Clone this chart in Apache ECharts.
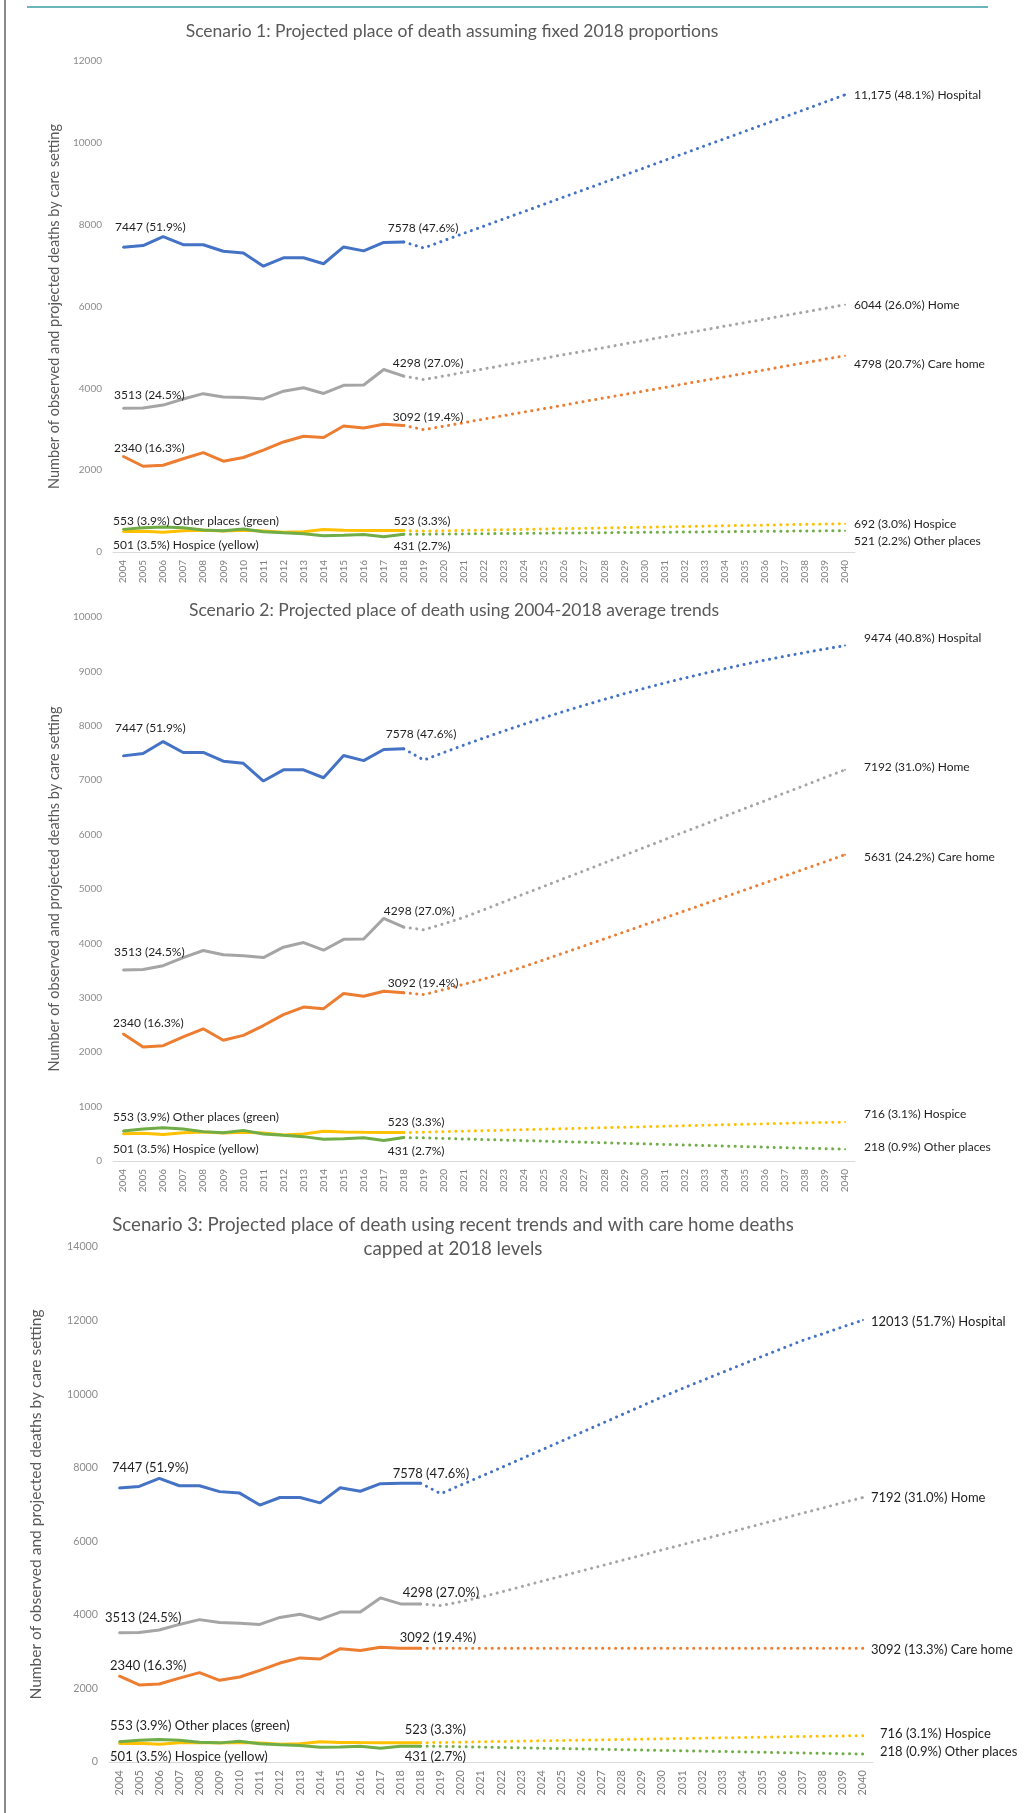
<!DOCTYPE html>
<html><head><meta charset="utf-8">
<script src="https://cdn.jsdelivr.net/npm/echarts@6/dist/echarts.min.js"></script>
<style>html,body{margin:0;padding:0;background:#fff}#c{width:1036px;height:1813px}</style>
</head><body><div id="c"></div>
<script>
// ---------------- DATA ----------------
const years = ['2004','2005','2006','2007','2008','2009','2010','2011','2012','2013','2014','2015','2016','2017','2018',
  '2019','2020','2021','2022','2023','2024','2025','2026','2027','2028','2029','2030','2031','2032','2033','2034','2035',
  '2036','2037','2038','2039','2040'];
const yearsS3 = ['2004','2005','2006','2007','2008','2009','2010','2011','2012','2013','2014','2015','2016','2017','2018','2018',
  '2019','2020','2021','2022','2023','2024','2025','2026','2027','2028','2029','2030','2031','2032','2033','2034','2035',
  '2036','2037','2038','2039','2040'];

// observed 2004-2018
const hospitalObs = [7447, 7490, 7710, 7510, 7510, 7350, 7310, 6985, 7190, 7190, 7045, 7455, 7360, 7565, 7578];
const homeObs     = [3513, 3520, 3590, 3740, 3870, 3790, 3775, 3740, 3930, 4015, 3875, 4075, 4080, 4460, 4298];
const careObs     = [2340, 2095, 2120, 2280, 2430, 2220, 2310, 2490, 2690, 2830, 2800, 3080, 3030, 3120, 3092];
const hospiceObs  = [501, 508, 485, 520, 533, 515, 530, 515, 480, 497, 548, 533, 527, 525, 523];
const otherObs    = [553, 590, 612, 590, 540, 520, 563, 497, 472, 448, 398, 410, 428, 375, 431];

// Scenario 1 projections 2019-2040
const s1Hospital = [7430, 7610, 7790, 7965, 8145, 8320, 8500, 8680, 8855, 9035, 9210, 9390, 9570, 9745, 9925, 10100, 10280, 10460, 10635, 10815, 10995, 11175];
const s1Home     = [4215, 4300, 4390, 4475, 4565, 4650, 4735, 4825, 4910, 4995, 5085, 5170, 5260, 5345, 5430, 5520, 5605, 5690, 5780, 5865, 5955, 6044];
const s1Care     = [2990, 3075, 3160, 3250, 3335, 3420, 3505, 3590, 3680, 3765, 3850, 3935, 4020, 4110, 4195, 4280, 4365, 4450, 4540, 4625, 4710, 4798];
const s1Hospice  = [510, 519, 527, 536, 545, 553, 562, 571, 579, 588, 597, 605, 614, 623, 631, 640, 649, 657, 666, 675, 683, 692];
const s1Other    = [435, 439, 443, 447, 451, 455, 460, 464, 468, 472, 476, 480, 484, 488, 492, 496, 500, 505, 509, 513, 517, 521];

// Scenario 2 projections 2019-2040
const s2Hospital = [7370, 7510, 7646, 7778, 7906, 8030, 8150, 8266, 8378, 8486, 8590, 8690, 8786, 8878, 8966, 9050, 9130, 9206, 9278, 9346, 9412, 9474];
const s2Home     = [4250, 4360, 4480, 4620, 4765, 4910, 5050, 5195, 5335, 5480, 5620, 5765, 5905, 6050, 6190, 6335, 6480, 6620, 6765, 6905, 7050, 7192];
const s2Care     = [3060, 3152, 3248, 3348, 3453, 3575, 3700, 3827, 3955, 4083, 4212, 4340, 4468, 4597, 4725, 4854, 4982, 5111, 5240, 5370, 5500, 5631];
const s2Hospice  = [530, 540, 549, 558, 567, 576, 585, 594, 603, 612, 621, 630, 639, 648, 657, 666, 675, 684, 693, 702, 709, 716];
const s2Other    = [425, 415, 405, 395, 385, 375, 365, 355, 345, 335, 325, 315, 305, 295, 285, 275, 265, 255, 245, 235, 226, 218];

// Scenario 3 projections 2019-2040
const s3Hospital = [7293, 7530, 7765, 8000, 8240, 8480, 8720, 8960, 9200, 9440, 9680, 9920, 10150, 10370, 10590, 10810, 11030, 11245, 11460, 11640, 11830, 12013];
const s3Home     = [4250, 4360, 4480, 4620, 4765, 4910, 5050, 5195, 5335, 5480, 5620, 5765, 5905, 6050, 6190, 6335, 6480, 6620, 6765, 6905, 7050, 7192];
const s3Care     = [3092, 3092, 3092, 3092, 3092, 3092, 3092, 3092, 3092, 3092, 3092, 3092, 3092, 3092, 3092, 3092, 3092, 3092, 3092, 3092, 3092, 3092];
const s3Hospice  = [530, 540, 549, 558, 567, 576, 585, 594, 603, 612, 621, 630, 639, 648, 657, 666, 675, 684, 693, 702, 709, 716];
const s3Other    = [425, 415, 405, 395, 385, 375, 365, 355, 345, 335, 325, 315, 305, 295, 285, 275, 265, 255, 245, 235, 226, 218];

// annotation texts: [start, last observed, end of projection]
const s1Text = {
  hospital: ['7447 (51.9%)', '7578 (47.6%)', '11,175 (48.1%) Hospital'],
  home:     ['3513 (24.5%)', '4298 (27.0%)', '6044 (26.0%) Home'],
  care:     ['2340 (16.3%)', '3092 (19.4%)', '4798 (20.7%) Care home'],
  hospice:  ['501 (3.5%) Hospice (yellow)', '523 (3.3%)', '692 (3.0%) Hospice'],
  other:    ['553 (3.9%) Other places (green)', '431 (2.7%)', '521 (2.2%) Other places']
};
const s2Text = {
  hospital: ['7447 (51.9%)', '7578 (47.6%)', '9474 (40.8%) Hospital'],
  home:     ['3513 (24.5%)', '4298 (27.0%)', '7192 (31.0%) Home'],
  care:     ['2340 (16.3%)', '3092 (19.4%)', '5631 (24.2%) Care home'],
  hospice:  ['501 (3.5%) Hospice (yellow)', '523 (3.3%)', '716 (3.1%) Hospice'],
  other:    ['553 (3.9%) Other places (green)', '431 (2.7%)', '218 (0.9%) Other places']
};
const s3Text = {
  hospital: ['7447 (51.9%)', '7578 (47.6%)', '12013 (51.7%) Hospital'],
  home:     ['3513 (24.5%)', '4298 (27.0%)', '7192 (31.0%) Home'],
  care:     ['2340 (16.3%)', '3092 (19.4%)', '3092 (13.3%) Care home'],
  hospice:  ['501 (3.5%) Hospice (yellow)', '523 (3.3%)', '716 (3.1%) Hospice'],
  other:    ['553 (3.9%) Other places (green)', '431 (2.7%)', '218 (0.9%) Other places']
};
const titleLines = [
  ['Scenario 1: Projected place of death assuming fixed 2018 proportions'],
  ['Scenario 2: Projected place of death using 2004-2018 average trends'],
  ['Scenario 3: Projected place of death using recent trends and with care home deaths', 'capped at 2018 levels']
];
const yName = 'Number of observed and projected deaths by care setting';

// ---------------- STYLE / LAYOUT ----------------
const FONT = 'Lato, "Open Sans", sans-serif';
const colors = {hospital:'#4472C4', home:'#A5A5A5', care:'#ED7D31', hospice:'#FFC000', other:'#70AD47'};
const order = ['hospice','other','care','home','hospital'];

const panels = [
  { cats: years, dupLast: false, grid:{left:113, top:61, width:742, height:491}, max:12000, interval:2000, nameGap:44,
    fs:{title:17.5, name:14.5, tick:10, xlab:10, ann:12},
    obs:{hospital:hospitalObs, home:homeObs, care:careObs, hospice:hospiceObs, other:otherObs},
    proj:{hospital:s1Hospital, home:s1Home, care:s1Care, hospice:s1Hospice, other:s1Other}, text:s1Text,
    off:{hospital:[[-7,-19],[-15,-13],[10,1]], home:[[-8,-12],[-10,-12],[10,1]], care:[[-8,-7],[-10,-7],[10,9]],
         hospice:[[-9,15],[-9,-8],[10,1]], other:[[-9,-7],[-9,13],[10,11]]},
    title:{x:452, y:[31]} },
  { cats: years, dupLast: false, grid:{left:113, top:617, width:742, height:544}, max:10000, interval:1000, nameGap:44,
    fs:{title:17.5, name:14.5, tick:10, xlab:10, ann:12},
    obs:{hospital:hospitalObs, home:homeObs, care:careObs, hospice:hospiceObs, other:otherObs},
    proj:{hospital:s2Hospital, home:s2Home, care:s2Care, hospice:s2Hospice, other:s2Other}, text:s2Text,
    off:{hospital:[[-7,-27],[-17,-14],[20,-6]], home:[[-8,-17],[-19,-15],[20,-2]], care:[[-9,-10],[-15,-9],[20,3]],
         hospice:[[-9,16],[-15,-9],[20,-7]], other:[[-9,-13],[-15,15],[20,-1]]},
    title:{x:454, y:[610]} },
  { cats: yearsS3, dupLast: true, grid:{left:109, top:1247, width:764, height:515}, max:14000, interval:2000, nameGap:65,
    fs:{title:18.7, name:15.5, tick:10.7, xlab:11, ann:13},
    obs:{hospital:hospitalObs, home:homeObs, care:careObs, hospice:hospiceObs, other:otherObs},
    proj:{hospital:s3Hospital, home:s3Home, care:s3Care, hospice:s3Hospice, other:s3Other}, text:s3Text,
    off:{hospital:[[-6,-19],[-27,-8],[9,3]], home:[[-13,-14],[-17,-10],[9,1]], care:[[-8,-9],[-20,-9],[9,3]],
         hospice:[[-8,14],[-15,-12],[18,-1]], other:[[-8,-15],[-15,12],[18,-1]]},
    title:{x:453, y:[1225, 1249]} }
];

function lbl(text, pos, fs){
  return {show:true, formatter:text, position:pos, align:'left', verticalAlign:'middle',
          color:'#1f1f1f', fontSize:fs, fontFamily:FONT};
}
function item(v, text, pos, color, fs){
  return {value:v, symbol:'circle', symbolSize:2, itemStyle:{color:color}, label:lbl(text, pos, fs)};
}

const grids=[], xAxes=[], yAxes=[], series=[], titleOpts=[];
panels.forEach((p, pi) => {
  grids.push(p.grid);
  xAxes.push({type:'category', gridIndex:pi, data:p.cats, boundaryGap:true,
    axisLine:{lineStyle:{color:'#d9d9d9', width:1}}, axisTick:{show:false},
    axisLabel:{rotate:90, interval:0, margin:8, color:'#7f7f7f', fontSize:p.fs.xlab, fontFamily:FONT}});
  yAxes.push({type:'value', gridIndex:pi, min:0, max:p.max, interval:p.interval,
    axisLine:{show:false}, axisTick:{show:false}, splitLine:{show:false},
    axisLabel:{color:'#8c8c8c', fontSize:p.fs.tick, fontFamily:FONT, margin:11, formatter:v => String(v)},
    name:yName, nameLocation:'middle', nameGap:p.nameGap,
    nameTextStyle:{color:'#595959', fontSize:p.fs.name, fontFamily:FONT}});
  titleLines[pi].forEach((line, li) => {
    titleOpts.push({text:line, left:p.title.x, top:p.title.y[li], textAlign:'center', textVerticalAlign:'middle',
      padding:0, textStyle:{color:'#595959', fontSize:p.fs.title, fontWeight:'normal', fontFamily:FONT}});
  });
  const n = p.cats.length;
  order.forEach(k => {
    const obs = p.dupLast ? p.obs[k].concat(p.obs[k].slice(-1)) : p.obs[k];
    const last = obs.length - 1;
    const t = p.text[k], o = p.off[k], c = colors[k], fs = p.fs.ann;
    const obsData = [];
    for (let i=0;i<n;i++){
      if (i === 0) obsData.push(item(obs[i], t[0], o[0], c, fs));
      else if (i === last) obsData.push(item(obs[i], t[1], o[1], c, fs));
      else if (i < last) obsData.push(obs[i]);
      else obsData.push(null);
    }
    const projData = [];
    for (let i=0;i<n;i++){
      if (i < last) projData.push(null);
      else if (i === last) projData.push(obs[last]);
      else if (i === n-1) projData.push(item(p.proj[k][i-last-1], t[2], o[2], c, fs));
      else projData.push(p.proj[k][i-last-1]);
    }
    series.push({type:'line', xAxisIndex:pi, yAxisIndex:pi, data:obsData, symbol:'none', showSymbol:true,
      showAllSymbol:true, lineStyle:{color:c, width:3}, itemStyle:{color:c}, silent:true, z:3});
    series.push({type:'line', xAxisIndex:pi, yAxisIndex:pi, data:projData, symbol:'none', showSymbol:true,
      showAllSymbol:true, lineStyle:{color:c, width:3, type:[0.1,6.4], cap:'round'}, itemStyle:{color:c}, silent:true, z:2});
  });
});

const chart = echarts.init(document.getElementById('c'), null, {renderer:'canvas'});
chart.setOption({
  animation:false,
  backgroundColor:'#ffffff',
  title:titleOpts,
  grid:grids, xAxis:xAxes, yAxis:yAxes, series:series,
  graphic:[
    {type:'line', shape:{x1:27, y1:7, x2:988, y2:7}, style:{stroke:'#3a9ea5', lineWidth:1.5}, silent:true},
    {type:'line', shape:{x1:5, y1:0, x2:5, y2:1813}, style:{stroke:'#8a8a8a', lineWidth:2}, silent:true}
  ]
});
</script></body></html>
